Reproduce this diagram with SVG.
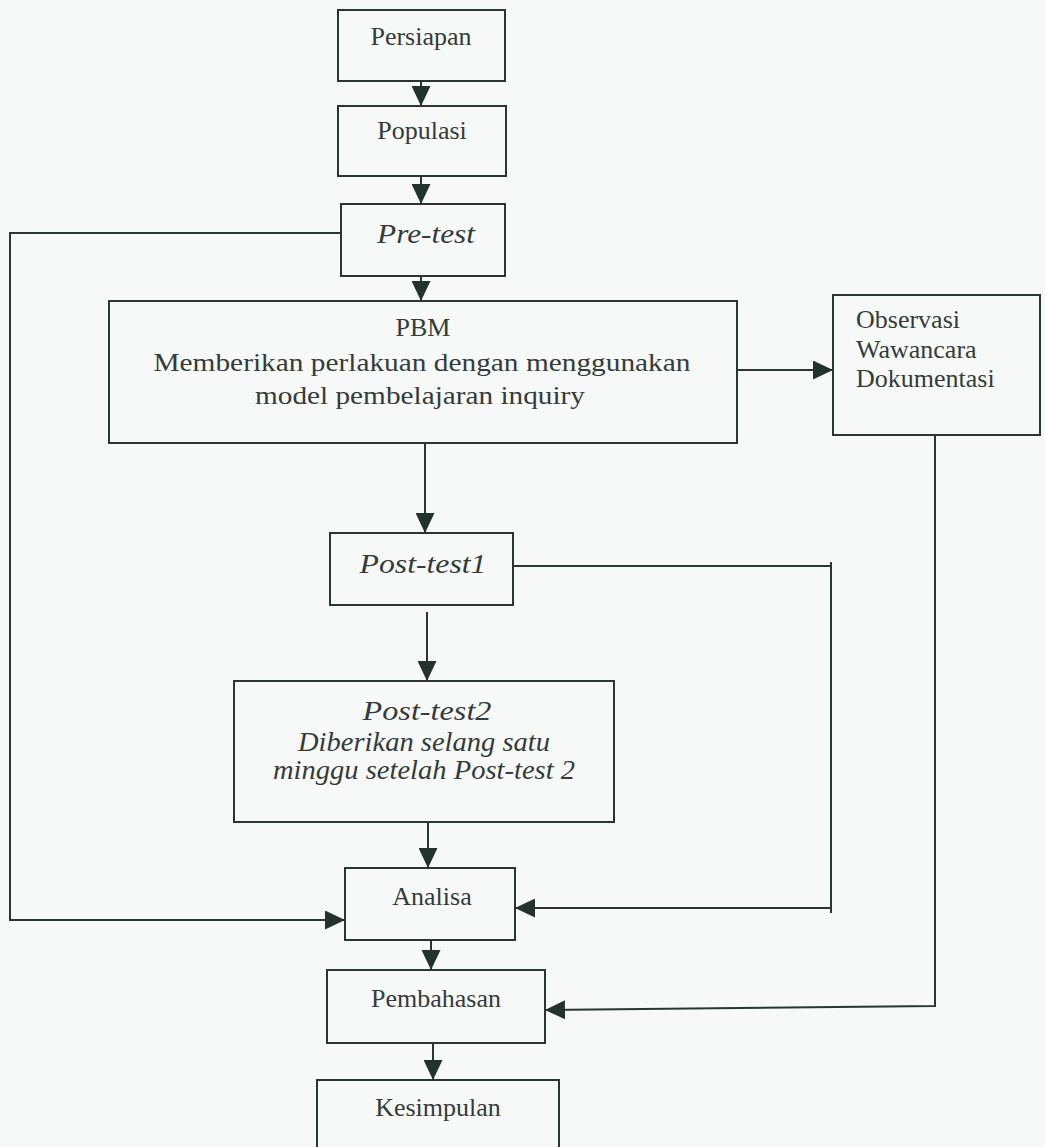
<svg xmlns="http://www.w3.org/2000/svg" width="1045" height="1147" viewBox="0 0 1045 1147">
<style>
.box{fill:none;stroke:#2b3532;stroke-width:2}
.t{font-family:"Liberation Serif","Times New Roman",serif;font-size:26px;fill:#353b39}
.c{text-anchor:middle}
.i{font-style:italic;font-size:28px}
.ln{fill:none;stroke:#2b3532;stroke-width:2}
</style>
<defs>
<marker id="ahb" viewBox="0 0 10 10" refX="10" refY="5" markerWidth="20" markerHeight="19" markerUnits="userSpaceOnUse" orient="auto" preserveAspectRatio="none">
<path d="M0,0 L10,5 L0,10 Z" fill="#22332e"/>
</marker>
</defs>
<rect width="1045" height="1147" fill="#f6f9f8"/>
<g id="connectors">
<line class="ln" x1="421" y1="81" x2="421" y2="106" marker-end="url(#ahb)"/>
<line class="ln" x1="421" y1="176" x2="421" y2="204" marker-end="url(#ahb)"/>
<line class="ln" x1="421" y1="276" x2="421" y2="301" marker-end="url(#ahb)"/>
<polyline class="ln" points="341,233 10,233 10,920 345,920" marker-end="url(#ahb)"/>
<line class="ln" x1="737" y1="370" x2="833" y2="370" marker-end="url(#ahb)"/>
<line class="ln" x1="425" y1="443" x2="425" y2="533" marker-end="url(#ahb)"/>
<polyline class="ln" points="513,566 831,566"/>
<line class="ln" x1="831" y1="562" x2="831" y2="913"/>
<line class="ln" x1="831" y1="908" x2="515" y2="908" marker-end="url(#ahb)"/>
<line class="ln" x1="427" y1="612" x2="427" y2="681" marker-end="url(#ahb)"/>
<line class="ln" x1="428" y1="822" x2="428" y2="868" marker-end="url(#ahb)"/>
<line class="ln" x1="431" y1="940" x2="431" y2="970" marker-end="url(#ahb)"/>
<polyline class="ln" points="935,435 935,1006 545,1010" marker-end="url(#ahb)"/>
<line class="ln" x1="433" y1="1043" x2="433" y2="1080" marker-end="url(#ahb)"/>
</g>
<g id="persiapan">
<rect class="box" x="338" y="10" width="167" height="71"/>
<text class="t c" x="421" y="45">Persiapan</text>
</g>
<g id="populasi">
<rect class="box" x="338" y="106" width="168" height="70"/>
<text class="t c" x="422" y="139">Populasi</text>
</g>
<g id="pretest">
<rect class="box" x="341" y="204" width="164" height="72"/>
<text class="t c i" x="426" y="243" textLength="98" lengthAdjust="spacingAndGlyphs">Pre-test</text>
</g>
<g id="pbm">
<rect class="box" x="109" y="301" width="628" height="142"/>
<text class="t c" x="423" y="336">PBM</text>
<text class="t c" x="422" y="371" font-size="27" textLength="537" lengthAdjust="spacingAndGlyphs">Memberikan perlakuan dengan menggunakan</text>
<text class="t c" x="420" y="404" font-size="27" textLength="330" lengthAdjust="spacingAndGlyphs">model pembelajaran inquiry</text>
</g>
<g id="observasi">
<rect class="box" x="833" y="295" width="207" height="140"/>
<text class="t" x="856" y="328">Observasi</text>
<text class="t" x="856" y="358">Wawancara</text>
<text class="t" x="856" y="387">Dokumentasi</text>
</g>
<g id="posttest1">
<rect class="box" x="330" y="533" width="183" height="72"/>
<text class="t c i" x="423" y="573" textLength="127" lengthAdjust="spacingAndGlyphs">Post-test1</text>
</g>
<g id="posttest2">
<rect class="box" x="234" y="681" width="380" height="141"/>
<text class="t c i" x="427" y="720" textLength="129" lengthAdjust="spacingAndGlyphs">Post-test2</text>
<text class="t c i" x="424" y="751" textLength="252" lengthAdjust="spacingAndGlyphs">Diberikan selang satu</text>
<text class="t c i" x="424" y="779" textLength="302" lengthAdjust="spacingAndGlyphs">minggu setelah Post-test 2</text>
</g>
<g id="analisa">
<rect class="box" x="345" y="868" width="170" height="72"/>
<text class="t c" x="432" y="905">Analisa</text>
</g>
<g id="pembahasan">
<rect class="box" x="327" y="970" width="218" height="73"/>
<text class="t c" x="436" y="1007">Pembahasan</text>
</g>
<g id="kesimpulan">
<rect class="box" x="317" y="1080" width="242" height="80"/>
<text class="t c" x="438" y="1116">Kesimpulan</text>
</g>
</svg>
